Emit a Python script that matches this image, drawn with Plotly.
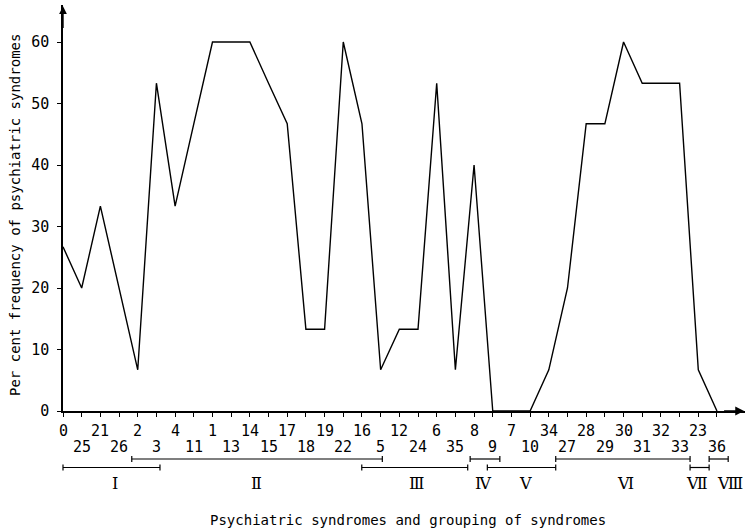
import plotly.graph_objects as go

# ---------------- data ----------------
syndromes = ["0", "25", "21", "26", "2", "3", "4", "11", "1", "13", "14", "15",
             "17", "18", "19", "22", "16", "5", "12", "24", "6", "35", "8", "9",
             "7", "10", "34", "27", "28", "29", "30", "31", "32", "33", "23", "36"]
frequency = [26.7, 20, 33.3, 20, 6.7, 53.3, 33.3, 46.7, 60, 60, 60, 53.3,
             46.7, 13.3, 13.3, 60, 46.7, 6.7, 13.3, 13.3, 53.3, 6.7, 40, 0,
             0, 0, 6.7, 20, 46.7, 46.7, 60, 53.3, 53.3, 53.3, 6.7, 0]
y_ticks = [0, 10, 20, 30, 40, 50, 60]
group_names = ["Ⅰ", "Ⅱ", "Ⅲ", "Ⅳ", "Ⅴ", "Ⅵ", "Ⅶ", "Ⅷ"]
group_from = [0, 3.68, 15.99, 21.79, 22.71, 26.37, 33.56, 34.58]
group_to = [5.19, 17.09, 21.66, 23.38, 26.37, 33.56, 34.58, 35.6]
group_label_at = [2.78, 10.36, 18.93, 22.49, 24.73, 30.08, 33.92, 35.71]

# ---------------- layout geometry ----------------
W, H = 745, 531
ML, MR, MT, MB = 63, 0, 5, 120
XMAX = 36.5
plot_w = W - ML - MR
plot_h = H - MT - MB
YMAX = plot_h / 6.15


def xp(v):
    """category position -> paper x"""
    return v / XMAX


def xpp(px):
    """pixel column -> paper x"""
    return (px - ML) / plot_w


def yp(py):
    """pixel row -> paper y"""
    return (H - MB - py) / plot_h


MONO = "DejaVu Sans Mono"
x_idx = list(range(len(syndromes)))

fig = go.Figure()
fig.add_trace(go.Scatter(x=x_idx, y=frequency, mode="lines",
                         line=dict(color="black", width=1.4),
                         hoverinfo="skip", cliponaxis=False))

annotations = []
# x category labels in two staggered rows
for i, lab in enumerate(syndromes):
    annotations.append(dict(x=xp(i), y=yp(431 if i % 2 == 0 else 446.5),
                            xref="paper", yref="paper",
                            text=lab, showarrow=False, xanchor="center", yanchor="middle",
                            font=dict(family=MONO, size=15, color="black")))

shapes = []
rows = [467.5, 459, 467.5, 459, 467.5, 459, 467.5, 459]
for name, a, b, r, lx in zip(group_names, group_from, group_to, rows, group_label_at):
    yy = yp(r)
    t = 3 / plot_h
    shapes.append(dict(type="line", xref="paper", yref="paper", x0=xp(a), x1=xp(b),
                       y0=yy, y1=yy, line=dict(color="black", width=1.2)))
    for e in (a, b):
        shapes.append(dict(type="line", xref="paper", yref="paper", x0=xp(e), x1=xp(e),
                           y0=yy - t, y1=yy + t, line=dict(color="black", width=1.2)))
    annotations.append(dict(x=xp(lx), y=yp(483), xref="paper", yref="paper", text=name,
                            showarrow=False, xanchor="center", yanchor="middle",
                            font=dict(family="DejaVu Serif", size=16, color="black")))

# axis titles
annotations.append(dict(x=xpp(408), y=yp(520), xref="paper", yref="paper",
                        text="Psychiatric syndromes and grouping of syndromes",
                        showarrow=False, xanchor="center", yanchor="middle",
                        font=dict(family=MONO, size=14, color="black")))
annotations.append(dict(x=xpp(15), y=yp(215), xref="paper", yref="paper",
                        text="Per cent frequency of psychiatric syndromes", textangle=-90,
                        showarrow=False, xanchor="center", yanchor="middle",
                        font=dict(family=MONO, size=14, color="black")))

# axis arrows
annotations.append(dict(x=XMAX - 0.05, y=0, ax=XMAX - 1.2, ay=0, xref="x", yref="y",
                        axref="x", ayref="y", text="", showarrow=True, arrowhead=2,
                        arrowsize=1.1, arrowwidth=1.6, arrowcolor="black"))
annotations.append(dict(x=0, y=YMAX - 0.2, ax=0, ay=YMAX - 4, xref="x", yref="y",
                        axref="x", ayref="y", text="", showarrow=True, arrowhead=2,
                        arrowsize=1.1, arrowwidth=1.4, arrowcolor="black"))

fig.update_layout(
    width=W, height=H,
    margin=dict(l=ML, r=MR, t=MT, b=MB),
    paper_bgcolor="white", plot_bgcolor="white",
    showlegend=False,
    annotations=annotations, shapes=shapes,
    xaxis=dict(range=[0, XMAX], tickvals=x_idx, ticktext=[""] * len(x_idx),
               ticks="outside", ticklen=4, tickwidth=1.2, tickcolor="black",
               showline=True, linecolor="black", linewidth=1.5,
               showgrid=False, zeroline=False, fixedrange=True),
    yaxis=dict(range=[0, YMAX], tickvals=y_ticks, ticktext=[str(v) for v in y_ticks],
               ticks="outside", ticklen=4, tickwidth=1.2, tickcolor="black",
               showline=True, linecolor="black", linewidth=1.5,
               tickfont=dict(family=MONO, size=15, color="black"),
               ticklabelstandoff=5,
               showgrid=False, zeroline=False, fixedrange=True),
)

fig.write_html("out.html", config={"displayModeBar": False},
               post_script="document.body.style.margin='0';")
